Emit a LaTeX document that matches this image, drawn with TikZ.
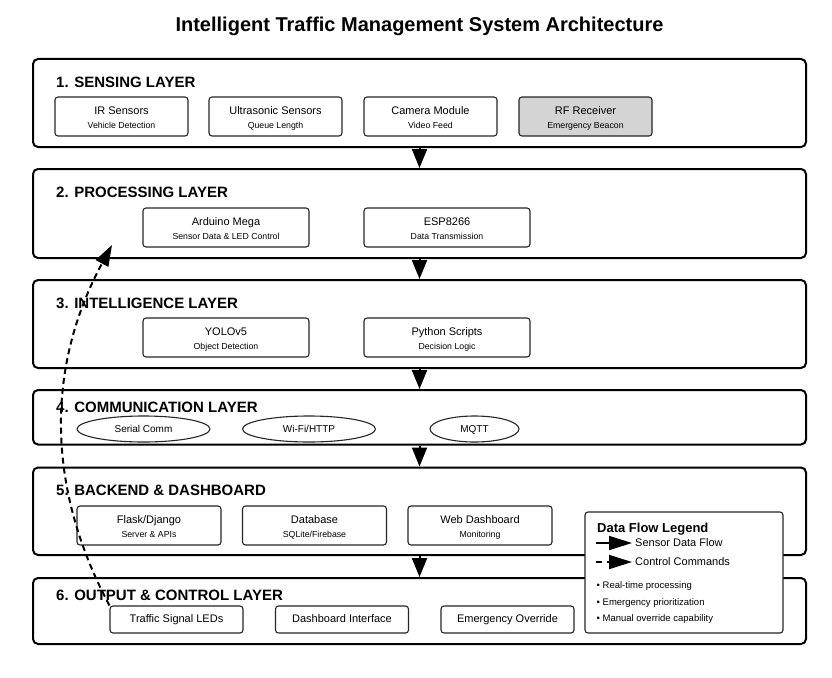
\documentclass[tikz,border=0pt]{standalone}
\usepackage{fontspec}
\setmainfont{Liberation Sans}
\usetikzlibrary{arrows.meta,shapes.geometric}
\tikzset{
  layer/.style={draw=black, line width=2pt, rounded corners=5pt, fill=white, inner sep=0pt},
  ltitle/.style={anchor=base west, inner sep=0pt, font=\fontsize{15}{18}\selectfont\bfseries},
  comp/.style={draw=black!85, line width=1.1pt, rounded corners=3pt, fill=white, align=center,
    minimum height=39pt, inner sep=0pt, font=\fontsize{11}{14}\selectfont},
  outbox/.style={draw=black!85, line width=1.1pt, rounded corners=3pt, fill=white,
    minimum width=133pt, minimum height=27pt, inner sep=0pt, text height=8pt, text depth=2.5pt,
    font=\fontsize{11}{13}\selectfont},
  oval/.style={draw=black!85, line width=1.1pt, ellipse, fill=white, minimum height=26pt,
    inner sep=0pt, text height=9.2pt, text depth=2pt, font=\fontsize{10}{12}\selectfont},
  flow/.style={line width=2pt, -{Triangle[length=19pt,width=15pt]}},
  ctrlflow/.style={line width=2pt, dash pattern=on 6pt off 4pt, -{Triangle[length=21pt,width=14pt]}},
  legtext/.style={anchor=west, inner sep=0pt, font=\fontsize{11}{13}\selectfont},
  bullet/.style={anchor=west, inner sep=0pt, font=\fontsize{9.5}{11}\selectfont},
}
\newcommand{\mainl}[1]{\rule{0pt}{11pt}#1}
\newcommand{\subl}[1]{{\fontsize{8.75}{10}\selectfont\rule[-2pt]{0pt}{2pt}#1}}
\begin{document}
\begin{tikzpicture}[x=1pt,y=-1pt]
\useasboundingbox (0,0) rectangle (832,677);
\fill[white] (0,0) rectangle (832,677);

\node[anchor=base, inner sep=0pt, font=\fontsize{20}{24}\selectfont\bfseries] (title) at (419.5,31.5) {Intelligent Traffic Management System Architecture};

% layers
\node[layer, minimum width=773pt, minimum height=88pt] (L1) at (419.5,103) {};
\node[layer, minimum width=773pt, minimum height=89pt] (L2) at (419.5,213.5) {};
\node[layer, minimum width=773pt, minimum height=88pt] (L3) at (419.5,324) {};
\node[layer, minimum width=773pt, minimum height=54.5pt] (L4) at (419.5,417.25) {};
\node[layer, minimum width=773pt, minimum height=87.5pt] (L5) at (419.5,511.25) {};
\node[layer, minimum width=773pt, minimum height=66pt] (L6) at (419.5,611) {};

\node[ltitle] (t1) at (56,87) {1. SENSING LAYER};
\node[ltitle] (t2) at (56,197) {2. PROCESSING LAYER};
\node[ltitle] (t3) at (56,308) {3. INTELLIGENCE LAYER};
\node[ltitle] (t4) at (56,412) {4. COMMUNICATION LAYER};
\node[ltitle] (t5) at (56,495) {5. BACKEND \& DASHBOARD};
\node[ltitle] (t6) at (56,600) {6. OUTPUT \& CONTROL LAYER};

% sensing
\node[comp, minimum width=133pt] (ir) at (121.5,116.5) {\mainl{IR Sensors}\\\subl{Vehicle Detection}};
\node[comp, minimum width=133pt] (us) at (275.5,116.5) {\mainl{Ultrasonic Sensors}\\\subl{Queue Length}};
\node[comp, minimum width=133pt] (cam) at (430.5,116.5) {\mainl{Camera Module}\\\subl{Video Feed}};
\node[comp, minimum width=133pt, fill=black!17] (rf) at (585.5,116.5) {\mainl{RF Receiver}\\\subl{Emergency Beacon}};

% processing
\node[comp, minimum width=166pt] (ard) at (226,227.5) {\mainl{Arduino Mega}\\\subl{Sensor Data \& LED Control}};
\node[comp, minimum width=166pt] (esp) at (447,227.5) {\mainl{ESP8266}\\\subl{Data Transmission}};

% intelligence
\node[comp, minimum width=166pt] (yolo) at (226,337.5) {\mainl{YOLOv5}\\\subl{Object Detection}};
\node[comp, minimum width=166pt] (py) at (447,337.5) {\mainl{Python Scripts}\\\subl{Decision Logic}};

% communication
\node[oval, minimum width=133pt] (ser) at (143.5,429) {Serial Comm};
\node[oval, minimum width=133pt] (wifi) at (309,429) {Wi-Fi/HTTP};
\node[oval, minimum width=89pt] (mqtt) at (474.5,429) {MQTT};

% backend
\node[comp, minimum width=144pt] (flask) at (149,525.5) {\mainl{Flask/Django}\\\subl{Server \& APIs}};
\node[comp, minimum width=144pt] (db) at (314.5,525.5) {\mainl{Database}\\\subl{SQLite/Firebase}};
\node[comp, minimum width=144pt] (web) at (480,525.5) {\mainl{Web Dashboard}\\\subl{Monitoring}};

% output
\node[outbox] (led) at (176.5,619.5) {Traffic Signal LEDs};
\node[outbox] (dash) at (342,619.5) {Dashboard Interface};
\node[outbox] (emo) at (507.5,619.5) {Emergency Override};

% layer arrows
\draw[flow] (L1.south) -- (L2.north);
\draw[flow] (L2.south) -- (L3.north);
\draw[flow] (L3.south) -- (L4.north);
\draw[flow] (L4.south) -- (L5.north);
\draw[flow] (L5.south) -- (L6.north);

% control feedback
\coordinate (ctrlend) at (112,245);
\draw[ctrlflow] (led.north west) .. controls (45,485) and (47,365) .. (ctrlend);

% legend
\node[draw=black!85, line width=1.1pt, rounded corners=3pt, fill=white, minimum width=198pt, minimum height=121pt, inner sep=0pt] (leg) at (684,572.5) {};
\node[anchor=base west, inner sep=0pt, font=\fontsize{13}{15}\selectfont\bfseries] (legt) at (597,532) {Data Flow Legend};
\coordinate (s1) at (596,543);
\coordinate (e1) at (632,543);
\coordinate (s2) at (596,562);
\coordinate (e2) at (632,562);
\draw[line width=2pt, -{Triangle[length=23pt,width=14pt]}] (s1) -- (e1);
\draw[line width=2pt, dash pattern=on 6pt off 5pt, -{Triangle[length=23pt,width=14pt]}] (s2) -- (e2);
\node[legtext] (lt1) at (635,543) {Sensor Data Flow};
\node[legtext] (lt2) at (635,562) {Control Commands};
\node[bullet] (b1) at (596.5,586) {• Real-time processing};
\node[bullet] (b2) at (596.5,603) {• Emergency prioritization};
\node[bullet] (b3) at (596.5,619) {• Manual override capability};
\end{tikzpicture}
\end{document}
